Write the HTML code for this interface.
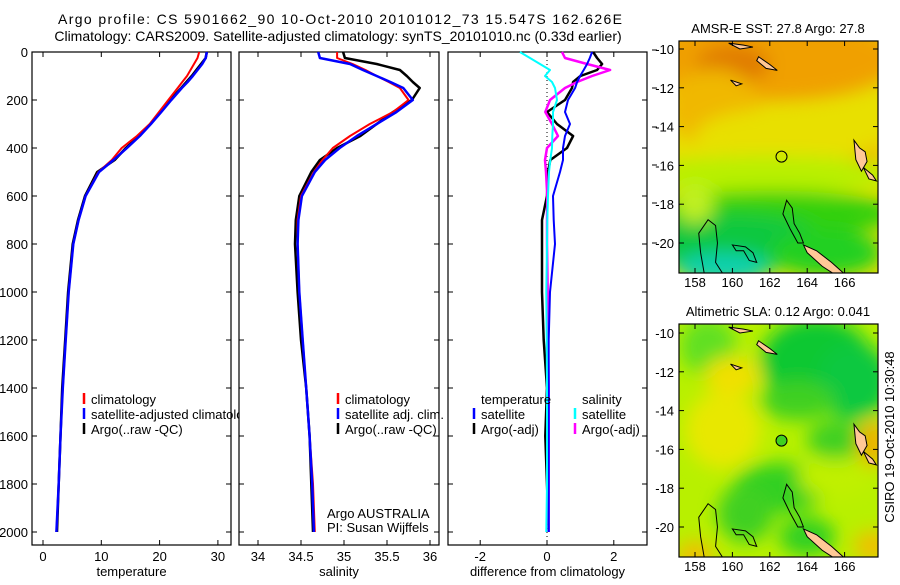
<!DOCTYPE html>
<html><head><meta charset="utf-8"><style>
body{margin:0;background:#fff;}
svg text{font-family:"Liberation Sans",sans-serif;fill:#000;}
</style></head><body>
<svg id="fig" width="900" height="580" viewBox="0 0 900 580" xmlns="http://www.w3.org/2000/svg">
<defs>
<filter id="blur" x="-20%" y="-20%" width="140%" height="140%"><feGaussianBlur stdDeviation="9"/></filter>
<clipPath id="clipTop"><rect x="679" y="41" width="199" height="232"/></clipPath>
<clipPath id="clipBot"><rect x="679" y="324" width="199" height="233"/></clipPath>
<clipPath id="clipLeg1"><rect x="0" y="380" width="239" height="70"/></clipPath>
</defs>
<text x="58" y="24" font-size="14" textLength="564" lengthAdjust="spacing">Argo profile: CS 5901662_90 10-Oct-2010 20101012_73 15.547S 162.626E</text>
<text x="338" y="41" font-size="14" text-anchor="middle">Climatology: CARS2009. Satellite-adjusted climatology: synTS_20101010.nc (0.33d earlier)</text>
<g id="panels"></g>
<g id="maps"></g>
<text transform="translate(894,437) rotate(-90)" font-size="13" text-anchor="middle">CSIRO 19-Oct-2010 10:30:48</text>
</svg>
<script>
const depths=[0,25,50,75,100,125,150,200,250,300,350,400,450,500,600,700,800,1000,1200,1400,1600,1800,2000];
const tempClim=[26.8,26.5,25.9,25.3,24.7,23.9,23.1,21.5,19.9,18.3,16.1,13.5,11.8,9.5,7.3,6.1,5.2,4.4,3.9,3.4,3.0,2.7,2.3];
const tempSat=[28.1,27.9,27.3,26.5,25.7,24.8,23.8,22.0,20.3,18.5,16.6,14.4,12.1,9.6,7.3,6.1,5.2,4.4,3.9,3.4,3.0,2.7,2.3];
const tempArgo=[28.1,27.9,27.1,26.3,25.5,24.6,23.7,21.8,20.1,18.4,16.5,14.2,12.3,9.3,7.2,6.0,5.1,4.3,3.8,3.3,3.0,2.7,2.4];
const salClim=[34.92,34.92,35.1,35.25,35.38,35.52,35.65,35.75,35.57,35.3,35.07,34.87,34.75,34.65,34.5,34.46,34.46,34.48,34.52,34.56,34.6,34.64,34.66];
const salSat=[34.70,34.72,35.07,35.22,35.38,35.54,35.69,35.8,35.61,35.38,35.15,34.95,34.78,34.66,34.51,34.47,34.46,34.48,34.52,34.56,34.6,34.63,34.65];
const salArgo=[34.99,35.01,35.38,35.65,35.73,35.8,35.88,35.79,35.57,35.38,35.19,34.92,34.72,34.62,34.48,34.44,34.43,34.46,34.5,34.56,34.6,34.62,34.64];
const dTempSat=[1.35,1.28,1.2,1.1,0.99,0.9,0.84,0.63,0.54,0.69,0.54,0.48,0.48,0.39,0.18,0.2,0.24,0.09,0.05,0.05,0.05,0.05,0.05];
const dTempArgo=[1.38,1.5,1.65,1.5,1.0,0.78,0.75,0.54,0.0,0.3,0.78,0.6,0.1,0.03,0.0,-0.15,-0.15,-0.15,-0.1,0.0,-0.05,0.0,0.05];
const dSalSat=[-0.81,-0.51,-0.21,0.09,-0.06,0.15,0.24,0.3,0.18,0.18,0.16,0.15,0.1,0.06,0.03,0.01,0.0,-0.02,-0.01,0.0,0.0,0.0,-0.02];
const dSalArgo=[0.45,0.54,1.2,1.89,1.35,0.9,0.54,0.09,-0.05,0.15,0.33,0.0,-0.06,-0.03,0.01,0.0,0.0,0.02,0.03,0.05,0.05,0.05,0.05];
const depthTicks=[0,200,400,600,800,1000,1200,1400,1600,1800,2000];
const tempTicks=[0,10,20,30];
const salTicks=[34,34.5,35,35.5,36];
const diffTicks=[-2,0,2];
const latTicks=[-10,-12,-14,-16,-18,-20];
const lonTicks=[158,160,162,164,166];

const NS='http://www.w3.org/2000/svg';
function mk(tag,attrs,parent){const e=document.createElementNS(NS,tag);for(const k in attrs)e.setAttribute(k,attrs[k]);parent.appendChild(e);return e;}
const yD=d=>52+d*0.24;
const panels=document.getElementById('panels');
const P=[
 {x0:32,x1:231,sx:v=>43+v*5.83,ticks:tempTicks,title:'temperature',name:'temperature-panel'},
 {x0:239,x1:439,sx:v=>258+(v-34)*86,ticks:salTicks,title:'salinity',name:'salinity-panel'},
 {x0:448,x1:647,sx:v=>547+v*33.4,ticks:diffTicks,title:'difference from climatology',name:'difference-panel'}
];
P.forEach((p,i)=>{
  const g=mk('g',{},panels);
  
  
  const r=mk('rect',{x:p.x0,y:52,width:p.x1-p.x0,height:493,fill:'none',stroke:'#000','stroke-width':1.2},g);
  
  
  p.ticks.forEach(t=>{
    const x=p.sx(t);
    mk('line',{x1:x,y1:52,x2:x,y2:57,stroke:'#000'},g);
    mk('line',{x1:x,y1:545,x2:x,y2:540,stroke:'#000'},g);
    const tx=mk('text',{x:x,y:561,'font-size':13,'text-anchor':'middle'},g);
    tx.textContent=String(t);
    
    
  });
  depthTicks.forEach(d=>{
    const y=yD(d);
    mk('line',{x1:p.x0,y1:y,x2:p.x0+5,y2:y,stroke:'#000'},g);
    mk('line',{x1:p.x1,y1:y,x2:p.x1-5,y2:y,stroke:'#000'},g);
    if(i===0){const tx=mk('text',{x:28,y:y+5,'font-size':13,'text-anchor':'end'},g);tx.textContent=String(d);
      
      }
  });
  const at=mk('text',{x:(p.x0+p.x1)/2,y:576,'font-size':13,'text-anchor':'middle'},g);
  at.textContent=p.title;
  
  
});
function line(g,xs,sx,color,w,name){
  const pts=xs.map((v,k)=>sx(v).toFixed(1)+','+yD(depths[k]).toFixed(1)).join(' ');
  const pl=mk('polyline',{points:pts,fill:'none',stroke:color,'stroke-width':w,'stroke-linejoin':'round'},g);
  
  
}
const zx=P[2].sx(0);
const zl=mk('line',{x1:zx,y1:52,x2:zx,y2:545,stroke:'#000','stroke-dasharray':'1,3'},panels);


line(panels,tempArgo,P[0].sx,'#000',2.5,'temp-argo-line');
line(panels,tempClim,P[0].sx,'#f00',2,'temp-climatology-line');
line(panels,tempSat,P[0].sx,'#00f',2.5,'temp-satellite-line');
line(panels,salArgo,P[1].sx,'#000',2.5,'sal-argo-line');
line(panels,salClim,P[1].sx,'#f00',2,'sal-climatology-line');
line(panels,salSat,P[1].sx,'#00f',2.5,'sal-satellite-line');
line(panels,dTempArgo,P[2].sx,'#000',2.5,'diff-temp-argo-line');
line(panels,dSalArgo,P[2].sx,'#f0f',2.5,'diff-sal-argo-line');
line(panels,dTempSat,P[2].sx,'#00f',2,'diff-temp-satellite-line');
line(panels,dSalSat,P[2].sx,'#0ff',2,'diff-sal-satellite-line');
[50,88,127,165,203,243].forEach(y=>mk('line',{x1:652,y1:y,x2:657,y2:y,stroke:'#000'},panels));
const leg1=mk('g',{'clip-path':'url(#clipLeg1)'},panels);
function legend(parent,x,y,color,label){
  const g=mk('g',{},parent);
  
  
  mk('line',{x1:x,y1:y-11,x2:x,y2:y,stroke:color,'stroke-width':2.5},g);
  const t=mk('text',{x:x+7,y:y,'font-size':13},g);t.textContent=label;
}
legend(leg1,84,404,'#f00','climatology');
legend(leg1,84,419,'#00f','satellite-adjusted climatology');
legend(leg1,84,434,'#000','Argo(..raw -QC)');
legend(panels,338,404,'#f00','climatology');
legend(panels,338,419,'#00f','satellite adj. clim.');
legend(panels,338,434,'#000','Argo(..raw -QC)');
legend(panels,474,419,'#00f','satellite');
legend(panels,474,434,'#000','Argo(-adj)');
legend(panels,575,419,'#0ff','satellite');
legend(panels,575,434,'#f0f','Argo(-adj)');
[[481,404,'temperature'],[582,404,'salinity'],[327,518,'Argo AUSTRALIA'],[327,532,'PI: Susan Wijffels']].forEach(a=>{
  const t=mk('text',{x:a[0],y:a[1],'font-size':13},panels);t.textContent=a[2];
  
  
});

const maps=document.getElementById('maps');
function drawMap(top,bottom,lat10,title,clip,blobs,bg,name,filledCircle){
  const g=mk('g',{},maps);
  
  
  const px=lon=>695+(lon-158)*18.7;
  const py=lat=>lat10+(-10-lat)*19.4;
  const cg=mk('g',{'clip-path':'url(#'+clip+')'},g);
  mk('rect',{x:679,y:top,width:199,height:bottom-top,fill:bg},cg);
  const bg2=mk('g',{filter:'url(#blur)'},cg);
  blobs.forEach(b=>mk('ellipse',{cx:px(b[0]),cy:py(b[1]),rx:b[2]*18.7,ry:b[3]*19.4,fill:b[4]},bg2));
  const isl=[
   [[163.8,-20.1],[164.5,-20.4],[165.3,-21],[166,-21.6],[165.6,-21.7],[164.8,-21.2],[164,-20.5]],
   [[166.5,-14.7],[166.8,-15.1],[167.1,-15.3],[167.2,-15.8],[166.9,-16.3],[166.6,-15.7]],
   [[167,-16.1],[167.5,-16.5],[167.7,-16.8],[167.3,-16.7]],
   [[161.4,-10.4],[162,-10.8],[162.4,-11.1],[161.8,-11.0],[161.3,-10.6]],
   [[159.8,-9.7],[160.6,-9.8],[161.1,-9.9],[160.4,-10.0]],
   [[159.9,-11.6],[160.5,-11.8],[160.2,-11.9]]
  ];
  isl.forEach(s=>mk('polygon',{points:s.map(p=>px(p[0])+','+py(p[1])).join(' '),fill:'#ffc896',stroke:'#000','stroke-width':1},cg));
  const reefs=[
   [[158.7,-18.8],[159.1,-19.1],[159.2,-20],[159.1,-21],[159.5,-21.6],[158.5,-21.6],[158.3,-20.5],[158.2,-19.5]],
   [[162.9,-17.8],[163.2,-18.2],[163.3,-19],[163.6,-19.5],[163.8,-20],[163.5,-20],[163.1,-19.3],[162.7,-18.5]],
   [[160.0,-20.1],[160.7,-20.2],[161.1,-20.5],[161.3,-21],[160.9,-20.9],[160.6,-20.4],[160.2,-20.4]]
  ];
  reefs.forEach(s=>mk('polygon',{points:s.map(p=>px(p[0])+','+py(p[1])).join(' '),fill:'none',stroke:'#000','stroke-width':1},cg));
  const c=mk('circle',{cx:px(162.626),cy:py(-15.547),r:5.5,fill:filledCircle?'#40d020':'none',stroke:'#000','stroke-width':1},g);
  
  
  mk('rect',{x:679,y:top,width:199,height:bottom-top,fill:'none',stroke:'#000','stroke-width':1.2},g);
  latTicks.forEach(l=>{
    const y=py(l);
    mk('line',{x1:679,y1:y,x2:684,y2:y,stroke:'#000'},g);
    mk('line',{x1:878,y1:y,x2:873,y2:y,stroke:'#000'},g);
    const t=mk('text',{x:674,y:y+5,'font-size':13,'text-anchor':'end'},g);t.textContent=String(l);
    
    
  });
  lonTicks.forEach(l=>{
    const x=px(l);
    mk('line',{x1:x,y1:top,x2:x,y2:top+5,stroke:'#000'},g);
    mk('line',{x1:x,y1:bottom,x2:x,y2:bottom-5,stroke:'#000'},g);
    const t=mk('text',{x:x,y:bottom+14,'font-size':13,'text-anchor':'middle'},g);t.textContent=String(l);
    
    
  });
  const tt=mk('text',{x:778,y:top-8,'font-size':13,'text-anchor':'middle'},g);tt.textContent=title;
  
  
}
drawMap(41,273,49,'AMSR-E SST: 27.8 Argo: 27.8','clipTop',[
 [162,-10.5,7,2.2,'#f0a000'],[160,-10.8,2,1,'#e07a00'],[159,-13,2.5,2,'#f0b800'],[166.5,-15,1.5,1.5,'#f0a800'],
 [163,-14.5,5,1.5,'#e8e000'],[162,-16.5,7,1,'#b8f000'],[162,-18.5,7,1.2,'#30d010'],[160,-20,5,1.5,'#10c840'],
 [159.5,-21.3,2.5,0.8,'#10d0b0'],[165,-20.5,3,1.2,'#20d020'],[158,-18,1,1,'#c0f020']
],'#e8e000','sst-map',false);
drawMap(324,557,333,'Altimetric SLA: 0.12 Argo: 0.041','clipBot',[
 [158.7,-10.7,1.5,1.5,'#60e020'],[164.5,-11.5,3,2.3,'#10c830'],[166.5,-12.5,2,2,'#10c840'],[163.5,-13.5,2,1,'#40d020'],
 [165.5,-15.5,1.5,1,'#40d020'],[162.5,-18,2.5,1.3,'#30d020'],[160.7,-19.3,1.5,1.5,'#40d020'],[164,-20.5,1.5,1,'#30d020'],
 [159.5,-15,2,2,'#e8e800'],[160,-12.2,1.5,1,'#f0e000'],[167.5,-15.7,0.8,1.2,'#f0b000'],[158,-21.5,1,0.8,'#f0c000'],
 [167.5,-21,1,0.8,'#f0c000'],[165.5,-17.5,2,1,'#c0f000']
],'#b8f000','sla-map',true);
</script>
</body></html>
